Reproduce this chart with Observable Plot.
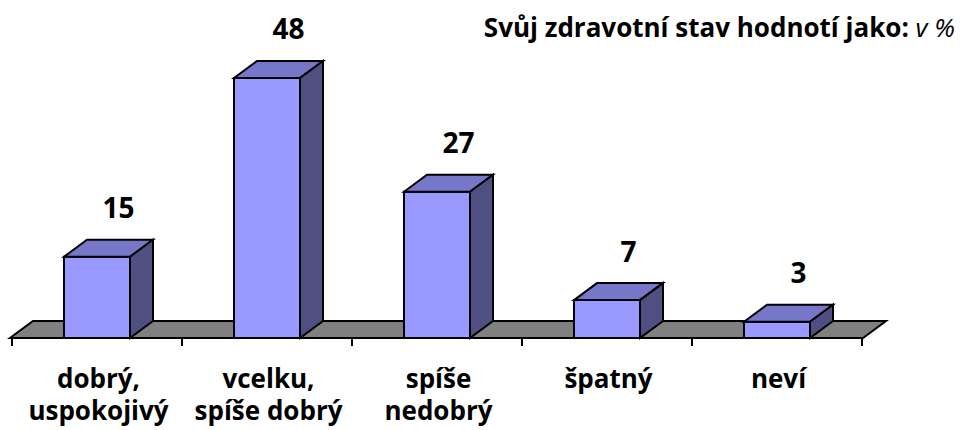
<!DOCTYPE html>
<html><head><meta charset="utf-8">
<script src="https://cdn.jsdelivr.net/npm/d3@7"></script>
<script src="https://cdn.jsdelivr.net/npm/@observablehq/plot@0.6"></script>
<style>
body{margin:0;background:#fff;}
#wrap{position:relative;width:960px;height:430px;}
#title{position:absolute;right:5px;top:15px;font-family:"Open Sans",sans-serif;font-weight:bold;font-size:26px;line-height:25px;color:#000;white-space:nowrap;}
#title i{font-weight:normal;}
</style></head><body>
<div id="wrap"><div id="title"></div></div>
<script>
const categories = ["dobrý,\nuspokojivý", "vcelku,\nspíše dobrý", "spíše\nnedobrý", "špatný", "neví"];
const values = [15, 48, 27, 7, 3];
const titleText = "Svůj zdravotní stav hodnotí jako: ";
const titleUnit = "v %";

const data = categories.map((c, i) => ({category: c, value: values[i]}));

const DX = 23, DY = -17, INSET = 52;
const FRONT = "#9999ff", TOP = "#7777c9", SIDE = "#4f4f82", FLOOR = "#808080";

document.getElementById("title").innerHTML = titleText + "<i>" + titleUnit + "</i>";

function poly(g, pts, fill) {
  g.append("path")
    .attr("d", "M" + pts.map(p => p.join(",")).join("L") + "Z")
    .attr("fill", fill).attr("stroke", "#000").attr("stroke-width", 2).attr("stroke-linejoin", "miter");
}

const floorMark = Plot.ruleY([0], {
  render: (index, scales, values, dims) => {
    const g = d3.create("svg:g");
    const x0 = dims.marginLeft, x1 = dims.width - dims.marginRight;
    const y0 = scales.y(0);
    poly(g, [[x0, y0], [x1, y0], [x1 + DX, y0 + DY], [x0 + DX, y0 + DY]], FLOOR);
    const bw = scales.x.bandwidth ? scales.x.bandwidth() : (x1 - x0) / categories.length;
    const ticks = categories.map(c => scales.x(c)).concat([scales.x(categories[categories.length - 1]) + bw]);
    for (const t of ticks) {
      g.append("line").attr("x1", t).attr("x2", t).attr("y1", y0).attr("y2", y0 + 8)
        .attr("stroke", "#000").attr("stroke-width", 2);
    }
    return g.node();
  }
});

const barsMark = Plot.barY(data, {
  x: "category", y: "value",
  render: (index, scales, values, dims) => {
    const g = d3.create("svg:g");
    const bw = scales.x.bandwidth();
    for (const i of index) {
      const d = data[i];
      const xa = scales.x(d.category) + INSET, xb = scales.x(d.category) + bw - INSET;
      const y0 = scales.y(0), y1 = scales.y(d.value);
      poly(g, [[xa, y0], [xa, y1], [xb, y1], [xb, y0]], FRONT);
      poly(g, [[xa, y1], [xa + DX, y1 + DY], [xb + DX, y1 + DY], [xb, y1]], TOP);
      poly(g, [[xb, y0], [xb, y1], [xb + DX, y1 + DY], [xb + DX, y0 + DY]], SIDE);
    }
    return g.node();
  }
});

const chart = Plot.plot({
  width: 960, height: 430,
  marginLeft: 10, marginRight: 97, marginTop: 13, marginBottom: 92,
  style: {fontFamily: "'Open Sans', sans-serif", background: "#fff", color: "#000"},
  x: {domain: categories, padding: 0},
  y: {domain: [0, 60], axis: null},
  marks: [
    floorMark,
    barsMark,
    Plot.text(data, {x: "category", y: "value", text: d => String(d.value), dx: 21, dy: -48,
      fontSize: 28, fontWeight: "bold", fill: "#000"}),
    Plot.axisX({tickSize: 0, tickPadding: 26, fontSize: 26, fontWeight: "bold", lineHeight: 1.25,
      dx: 1, label: null, fill: "#000", lineAnchor: "top"})
  ]
});
document.getElementById("wrap").prepend(chart);
</script>
</body></html>
